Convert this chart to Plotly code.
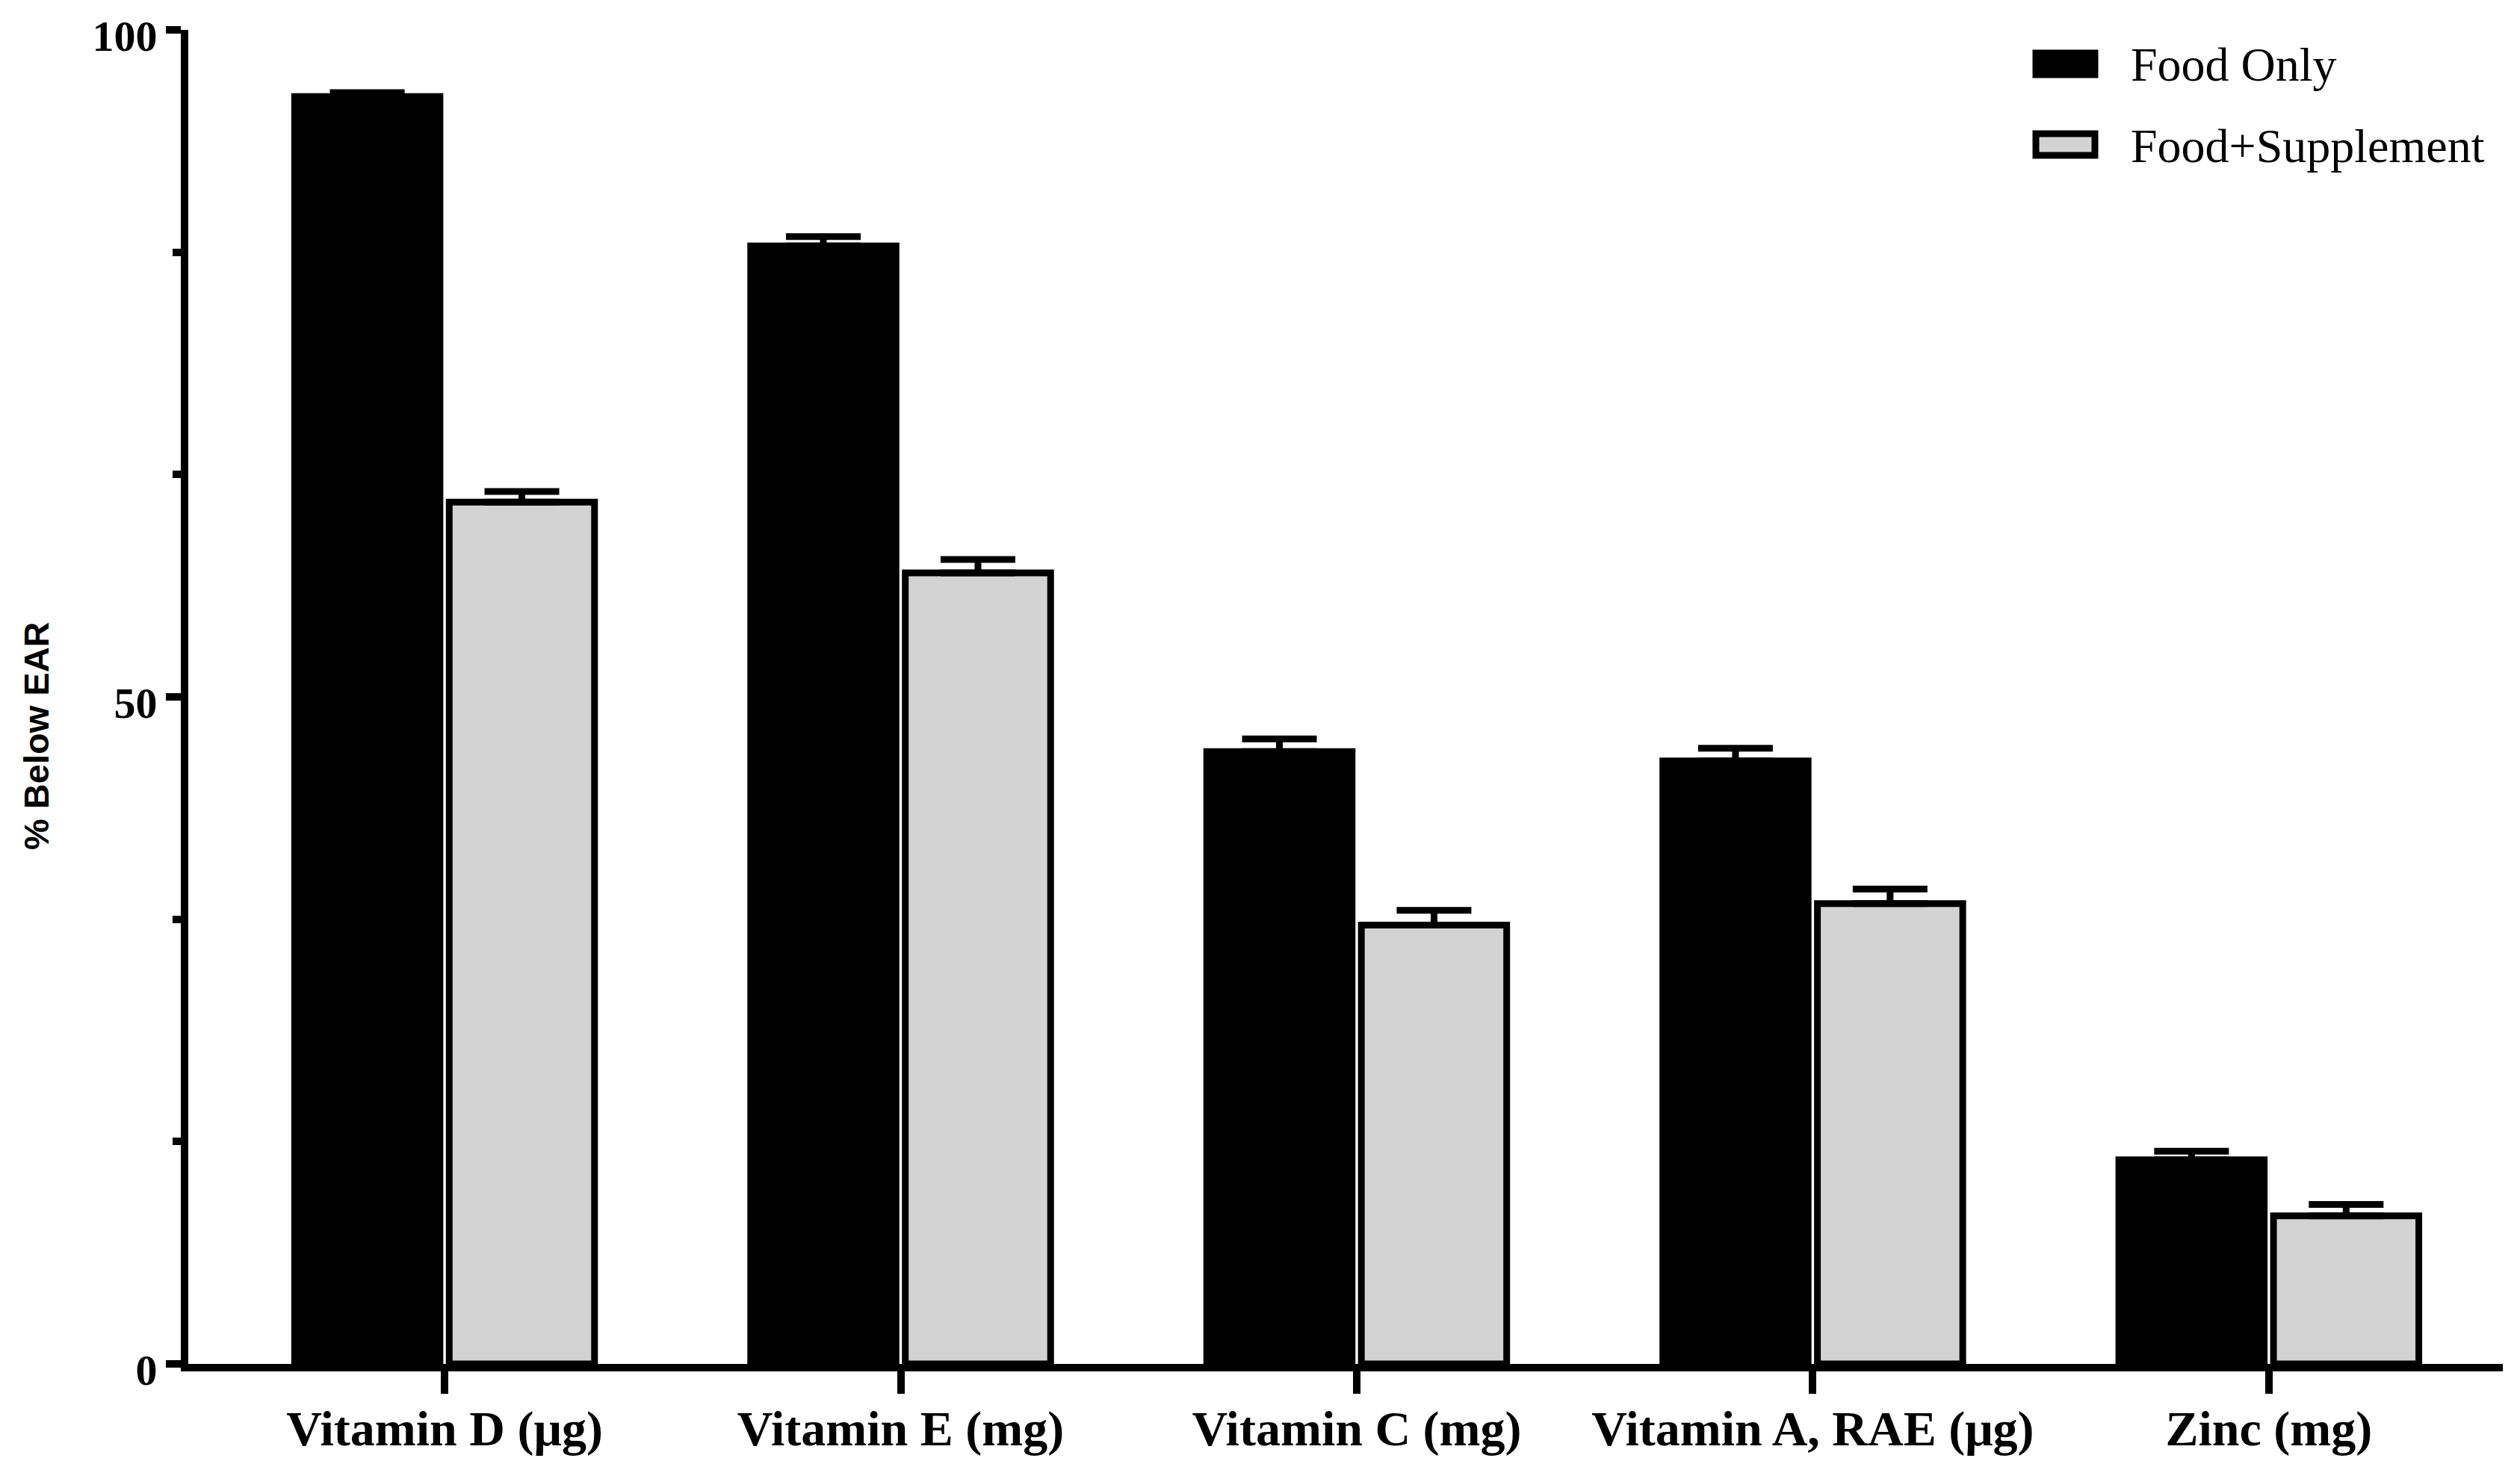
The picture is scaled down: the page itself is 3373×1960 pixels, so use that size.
import plotly.graph_objects as go

categories = ["Vitamin D (μg)", "Vitamin E (mg)", "Vitamin C (mg)", "Vitamin A, RAE (μg)", "Zinc (mg)"]
series_names = ["Food Only", "Food+Supplement"]
food_only = [95.0, 83.8, 45.9, 45.2, 15.3]
food_only_err = [0.3, 0.7, 0.95, 0.95, 0.65]
food_supp = [64.6, 59.3, 32.9, 34.5, 11.1]
food_supp_err = [0.8, 1.0, 1.1, 1.1, 0.85]
y_tickvals = [0, 50, 100]
y_ticktext = ["0", "50", "100"]
y_minor_ticks = [100 / 6, 100 / 3, 200 / 3, 500 / 6]

colors = ["#000000", "#d3d3d3"]
LW = 9     # bar borders / error bars
AW = 10    # axis lines / ticks

fig = go.Figure()
for name, vals, errs, col in [
    (series_names[0], food_only, food_only_err, colors[0]),
    (series_names[1], food_supp, food_supp_err, colors[1]),
]:
    fig.add_trace(go.Bar(
        x=categories, y=vals, name=name,
        marker=dict(color=col, line=dict(color="black", width=LW)),
        error_y=dict(type="data", symmetric=False, array=errs,
                     arrayminus=[0] * len(errs), color="black",
                     thickness=LW, width=50),
        showlegend=False,
    ))

# custom legend (large swatches like the original)
L, R, T, B = 244, 3342, 32, 1818
def px(xp):
    return (xp - L) / (R - L)
def py(yp):
    return (B - yp) / (B - T)

fig.add_shape(type="rect", xref="paper", yref="paper",
              x0=px(2717), x1=px(2796), y0=py(63), y1=py(92),
              fillcolor=colors[0], line=dict(color="black", width=LW))
fig.add_shape(type="rect", xref="paper", yref="paper",
              x0=px(2717), x1=px(2796), y0=py(171), y1=py(200),
              fillcolor=colors[1], line=dict(color="black", width=LW))
for txt, yc in [(series_names[0], 79), (series_names[1], 187)]:
    fig.add_annotation(text=txt, xref="paper", yref="paper",
                       x=px(2842), y=py(yc), xanchor="left", yanchor="middle",
                       showarrow=False,
                       font=dict(family="Liberation Serif", size=64, color="black"))

fig.add_annotation(text="% Below EAR", xref="paper", yref="paper",
                   x=px(41), y=py(977), xanchor="center", yanchor="middle",
                   textangle=-90, showarrow=False,
                   font=dict(family="Liberation Sans", size=47, color="black", weight="bold"))

fig.update_layout(
    width=3373, height=1960,
    margin=dict(l=L, r=3373 - R, t=T, b=1960 - B),
    plot_bgcolor="white", paper_bgcolor="white",
    barmode="group", bargap=0.322, bargroupgap=0.06,
)
fig.update_xaxes(
    type="category", range=[-0.562, 4.513], automargin=False,
    showline=True, linecolor="black", linewidth=AW,
    ticks="outside", ticklen=30, tickwidth=AW, tickcolor="black",
    showgrid=False, zeroline=False, ticklabelstandoff=-10,
    tickfont=dict(family="Liberation Serif", size=66, color="black", weight="bold"),
)
fig.update_yaxes(
    range=[0, 100], tickvals=y_tickvals, ticktext=y_ticktext, automargin=False,
    showline=True, linecolor="black", linewidth=AW,
    ticks="outside", ticklen=20, tickwidth=AW, tickcolor="black",
    showgrid=False, zeroline=False, ticklabeloverflow="allow", ticklabelshift=8,
    tickfont=dict(family="Liberation Serif", size=58, color="black", weight="bold"),
    minor=dict(tickvals=y_minor_ticks, ticks="outside", ticklen=11,
               tickwidth=AW, tickcolor="black", showgrid=False),
)

fig.write_html("out.html", config={"displayModeBar": False})
